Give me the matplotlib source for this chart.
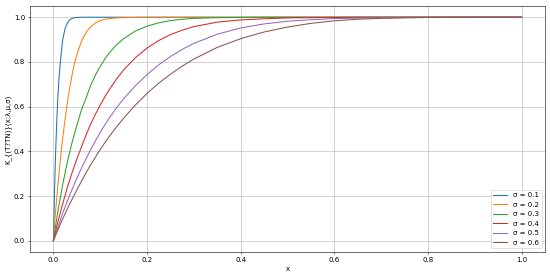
import matplotlib
matplotlib.use("Agg")
import matplotlib.pyplot as plt

x = [0, 0.0025, 0.005, 0.0075, 0.01, 0.0125, 0.015, 0.0175, 0.02, 0.025, 0.03, 0.035,
     0.04, 0.045, 0.05, 0.06, 0.07, 0.08, 0.09, 0.1, 0.11, 0.12, 0.135, 0.15, 0.175,
     0.2, 0.225, 0.25, 0.275, 0.3, 0.35, 0.4, 0.45, 0.5, 0.55, 0.6, 0.65, 0.7, 0.8,
     0.9, 1.0]

sigmas = ["0.1", "0.2", "0.3", "0.4", "0.5", "0.6"]

k_01 = [0, 0.23, 0.41, 0.55, 0.66, 0.74, 0.80, 0.855, 0.90, 0.95, 0.975, 0.988,
        0.995, 0.998, 0.999, 1, 1, 1, 1, 1, 1, 1, 1, 1, 1,
        1, 1, 1, 1, 1, 1, 1, 1, 1, 1, 1, 1, 1, 1, 1, 1]
k_02 = [0, 0.071, 0.138, 0.20, 0.259, 0.314, 0.365, 0.414, 0.46, 0.544, 0.62, 0.686,
        0.743, 0.793, 0.832, 0.892, 0.932, 0.959, 0.974, 0.985, 0.991, 0.994, 0.997,
        0.998, 0.999, 1, 1, 1, 1, 1, 1, 1, 1, 1, 1, 1, 1, 1, 1, 1, 1]
k_03 = [0, 0.036, 0.070, 0.103, 0.135, 0.165, 0.195, 0.224, 0.252, 0.304, 0.353, 0.398,
        0.44, 0.479, 0.515, 0.586, 0.64, 0.697, 0.742, 0.78, 0.813, 0.842, 0.877, 0.904,
        0.938, 0.96, 0.975, 0.985, 0.991, 0.995, 0.998, 0.999, 1, 1, 1, 1, 1, 1, 1, 1, 1]
k_04 = [0, 0.0225, 0.044, 0.066, 0.087, 0.107, 0.127, 0.147, 0.166, 0.203, 0.239, 0.273,
        0.305, 0.336, 0.365, 0.42, 0.474, 0.523, 0.567, 0.607, 0.644, 0.678, 0.724, 0.764,
        0.819, 0.862, 0.896, 0.922, 0.942, 0.958, 0.978, 0.988, 0.993, 0.997, 0.998,
        0.999, 1, 1, 1, 1, 1]
k_05 = [0, 0.0162, 0.032, 0.048, 0.063, 0.078, 0.093, 0.108, 0.123, 0.151, 0.178, 0.204,
        0.23, 0.255, 0.279, 0.325, 0.368, 0.409, 0.448, 0.484, 0.519, 0.551, 0.595, 0.635,
        0.693, 0.743, 0.787, 0.824, 0.856, 0.883, 0.924, 0.952, 0.970, 0.982, 0.989,
        0.994, 0.996, 0.998, 0.9995, 1, 1]
k_06 = [0, 0.0128, 0.0254, 0.0379, 0.0502, 0.0624, 0.0744, 0.0862, 0.098, 0.121, 0.143,
        0.165, 0.186, 0.207, 0.227, 0.266, 0.305, 0.341, 0.375, 0.408, 0.439, 0.468, 0.51,
        0.548, 0.607, 0.659, 0.705, 0.745, 0.781, 0.813, 0.865, 0.904, 0.934, 0.956,
        0.9725, 0.984, 0.991, 0.995, 0.999, 1, 1]

series = [k_01, k_02, k_03, k_04, k_05, k_06]

fig = plt.figure(figsize=(11, 5.5), dpi=50)
ax = fig.add_axes([0.0545, 0.084, 0.9365, 0.894])
for s, ys in zip(sigmas, series):
    ax.plot(x, ys, label=f"σ = {s}", linewidth=1.5)

ax.set_xlabel("x")
ax.set_ylabel("K_{(T?TN)}(x;λ,μ,σ)")
ax.grid(True)
ax.legend(loc="lower right")
fig.savefig("out.png", dpi=50)
